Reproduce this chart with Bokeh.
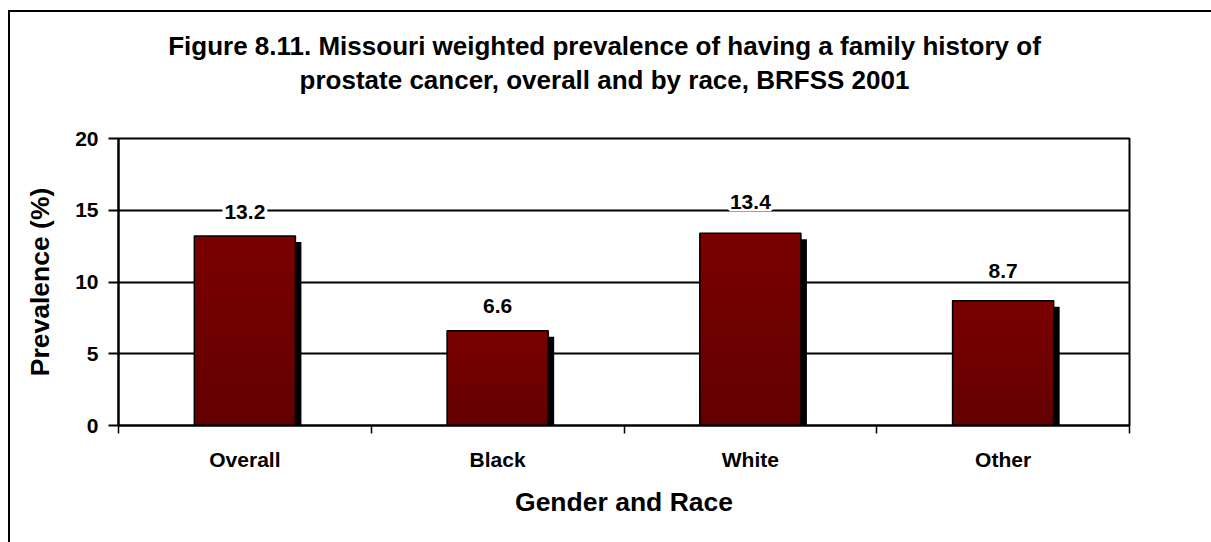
from bokeh.plotting import figure
from bokeh.layouts import column
from bokeh.models import Range1d, FixedTicker, ColumnDataSource, LabelSet, Label
from bokeh.core.properties import value
from bokeh.embed import file_html
from bokeh.resources import INLINE

# ---- data ----
categories = ["Overall", "Black", "White", "Other"]
prevalence = [13.2, 6.6, 13.4, 8.7]
y_ticks = [0, 5, 10, 15, 20]
title_lines = [
    "Figure 8.11. Missouri weighted prevalence of having a family history of",
    "prostate cancer, overall and by race, BRFSS 2001",
]
x_title = "Gender and Race"
y_title = "Prevalence (%)"

# ---- style ----
FONT = "Liberation Sans"
label_offsets = [17, 18, 24, 23]   # px above bar top (baseline)
bar_width = 0.40
top_color = (0x7B, 0x00, 0x00)
bottom_color = (0x62, 0x00, 0x00)
n_slices = 40

CANVAS_W = 1201
TITLE_H = 111
FRAME_W, FRAME_H = 1011, 287
BL, BT, BB = 108, 15, 117
BR = CANVAS_W - BL - FRAME_W
TITLE_FRAME_W = CANVAS_W - BL

n = len(categories)
ymax = y_ticks[-1]
xc = [i + 0.5 for i in range(n)]

# ---------------- title panel (its own small svg figure) ----------------
tf = figure(frame_width=TITLE_FRAME_W, frame_height=TITLE_H,
            x_range=Range1d(0, TITLE_FRAME_W), y_range=Range1d(0, TITLE_H),
            x_axis_location=None, y_axis_location=None,
            output_backend="svg", toolbar_location=None,
            min_border=0)
tf.outline_line_color = None
tf.grid.visible = False
tf.background_fill_color = "white"
tf.border_fill_color = "white"
for line, ypos in zip(title_lines, [78, 44]):
    tf.add_layout(Label(x=486, y=ypos, text=line,
                        text_align="center", text_baseline="alphabetic",
                        text_font=FONT, text_font_style="bold",
                        text_font_size="26px", text_color="black"))

# ---------------- main chart ----------------
p = figure(frame_width=FRAME_W, frame_height=FRAME_H,
           x_range=Range1d(0, n), y_range=Range1d(0, ymax),
           output_backend="svg", toolbar_location=None,
           min_border_left=BL, min_border_top=BT,
           min_border_bottom=BB, min_border_right=BR)
p.outline_line_color = "black"
p.outline_line_width = 2
p.background_fill_color = "white"
p.border_fill_color = "white"

# px -> data conversions
px_x = n / FRAME_W
px_y = ymax / FRAME_H

# shadow
sh = ColumnDataSource(dict(
    left=[c - bar_width / 2 + 6 * px_x for c in xc],
    right=[c + bar_width / 2 + 6 * px_x for c in xc],
    top=[v - 6 * px_y for v in prevalence],
    bottom=[0] * n))
p.quad(left="left", right="right", top="top", bottom="bottom", source=sh,
       fill_color="black", line_color=None)

# gradient bars: overlapping layers, each from 0 up to a decreasing height
L, R, T, B, C = [], [], [], [], []
for c, v in zip(xc, prevalence):
    for k in range(n_slices):
        t0 = v * (1 - k / n_slices)
        f = (k + 0.5) / n_slices
        col = tuple(int(round(a + (b - a) * f)) for a, b in zip(top_color, bottom_color))
        L.append(c - bar_width / 2)
        R.append(c + bar_width / 2)
        T.append(t0)
        B.append(0)
        C.append("#%02x%02x%02x" % col)
p.quad(left=L, right=R, top=T, bottom=B, fill_color=C, line_color=None)

# outline of bars
ol = ColumnDataSource(dict(left=[c - bar_width / 2 for c in xc],
                           right=[c + bar_width / 2 for c in xc],
                           top=prevalence, bottom=[0] * n))
p.quad(left="left", right="right", top="top", bottom="bottom", source=ol,
       fill_color=None, line_color="black", line_width=1.5)

# data labels
lab = ColumnDataSource(dict(x=xc, y=prevalence,
                            text=["%.1f" % v for v in prevalence],
                            off=label_offsets))
p.add_layout(LabelSet(x="x", y="y", text="text", y_offset="off", source=lab,
                      text_align="center", text_baseline="alphabetic",
                      text_font=value(FONT), text_font_style="bold",
                      text_font_size=value("21px"),
                      text_color="black", background_fill_color="white",
                      border_line_color="white", border_line_width=4))

# y axis
ya = p.yaxis[0]
ya.ticker = FixedTicker(ticks=y_ticks)
ya.axis_line_width = 2
ya.axis_line_color = "black"
ya.major_tick_out = 10
ya.major_tick_in = 0
ya.major_tick_line_width = 2
ya.major_tick_line_color = "black"
ya.minor_tick_line_color = None
ya.major_label_standoff = 10
ya.major_label_text_font = FONT
ya.major_label_text_font_style = "bold"
ya.major_label_text_font_size = "21px"
ya.major_label_text_color = "black"
ya.axis_label = y_title
ya.axis_label_text_font = FONT
ya.axis_label_text_font_style = "bold"
ya.axis_label_text_font_size = "26.5px"
ya.axis_label_text_color = "black"
ya.axis_label_standoff = 17

# x axis
xa = p.xaxis[0]
xa.ticker = FixedTicker(ticks=xc, minor_ticks=list(range(n + 1)))
xa.major_label_overrides = {c: name for c, name in zip(xc, categories)}
xa.axis_line_width = 2
xa.axis_line_color = "black"
xa.major_tick_out = 0
xa.major_tick_in = 0
xa.minor_tick_out = 8
xa.minor_tick_in = 0
xa.minor_tick_line_width = 1.5
xa.minor_tick_line_color = "black"
xa.major_label_standoff = 14
xa.major_label_text_font = FONT
xa.major_label_text_font_style = "bold"
xa.major_label_text_font_size = "21px"
xa.major_label_text_color = "black"
xa.axis_label = x_title
xa.axis_label_text_font = FONT
xa.axis_label_text_font_style = "bold"
xa.axis_label_text_font_size = "26.5px"
xa.axis_label_text_color = "black"
xa.axis_label_standoff = 13

# grid
p.xgrid.visible = False
p.ygrid.ticker = FixedTicker(ticks=y_ticks)
p.ygrid.grid_line_color = "black"
p.ygrid.grid_line_width = 2

layout = column(tf, p, spacing=0)
layout.margin = (10, 0, 0, 8)
layout.styles = {"border-left": "2px solid black", "border-top": "2px solid black",
                 "background-color": "white"}

open("out.html", "w").write(file_html(layout, INLINE))
